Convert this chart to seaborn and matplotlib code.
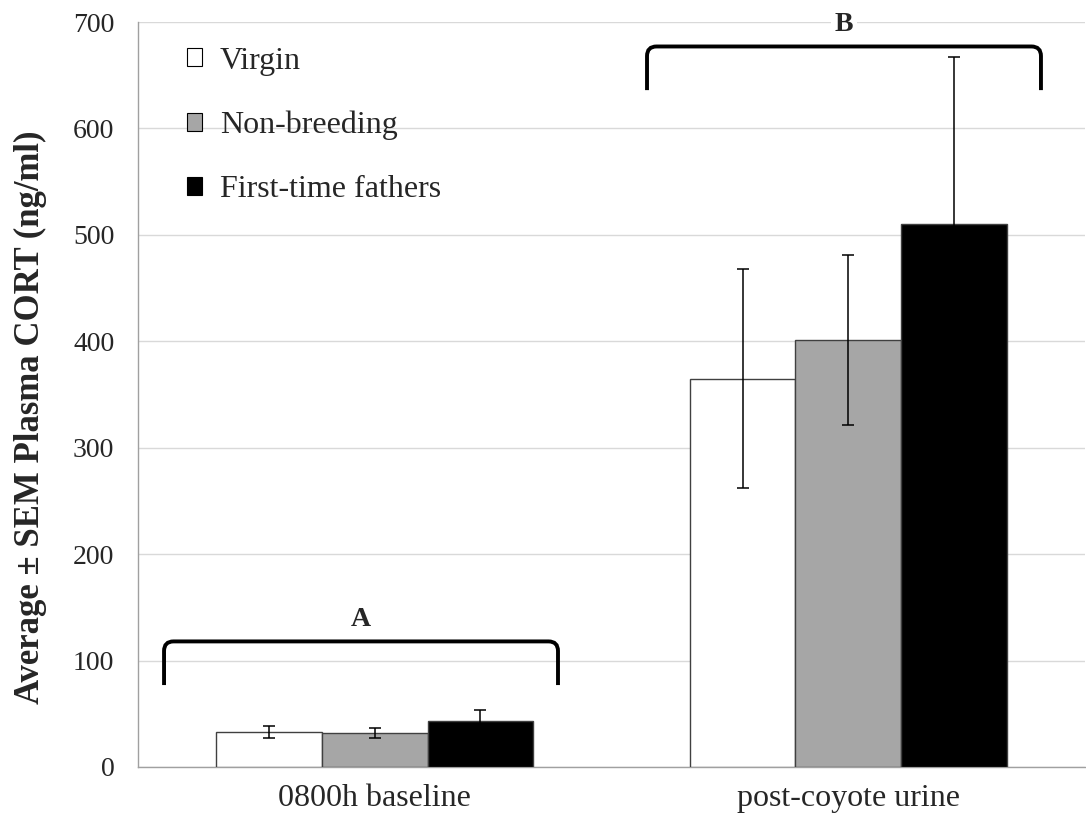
import matplotlib
matplotlib.use("Agg")
import matplotlib.pyplot as plt
from matplotlib.path import Path
from matplotlib.patches import PathPatch, Patch
import seaborn as sns
import pandas as pd

# Plasma corticosterone by condition and group
conditions = ["0800h baseline", "post-coyote urine"]
groups = ["Virgin", "Non-breeding", "First-time fathers"]
means_baseline = [33, 32, 43.5]
sems_baseline = [5.5, 4.4, 10]
means_coyote = [365, 401, 510]
sems_coyote = [103, 80, 157]
group_colors = ["#ffffff", "#a6a6a6", "#000000"]

# Significance brackets: (x start, x end), (leg bottom, top), label
bracket_x = [(-0.445, 0.387), (0.575, 1.407)]
bracket_y = [(77, 118), (636, 677)]
bracket_labels = ["A", "B"]

rows = []
for cond, means, sems in [(conditions[0], means_baseline, sems_baseline),
                          (conditions[1], means_coyote, sems_coyote)]:
    for g, m, s in zip(groups, means, sems):
        rows.append({"condition": cond, "group": g, "mean": m, "sem": s})
df = pd.DataFrame(rows)

sns.set_theme(style="white")
plt.rcParams["font.family"] = ["Liberation Serif", "DejaVu Serif"]

fig = plt.figure(figsize=(10.86, 8.25), dpi=100)
ax = fig.add_axes([138 / 1086, 1 - 767 / 825, (1085 - 138) / 1086, (767 - 22) / 825])

sns.barplot(data=df, x="condition", y="mean", hue="group", order=conditions,
            hue_order=groups, palette=group_colors, width=0.67, errorbar=None,
            edgecolor="#404040", linewidth=1.0, saturation=1, ax=ax, legend=False,
            zorder=3)

# Error bars at each bar's centre (patches come hue by hue)
ordered = [(g, c) for g in groups for c in conditions]
lookup = df.set_index(["group", "condition"])
for bar, key in zip(ax.patches, ordered):
    cx = bar.get_x() + bar.get_width() / 2
    ax.errorbar(cx, lookup.loc[key, "mean"], yerr=lookup.loc[key, "sem"],
                color="black", lw=1.1, capsize=4.5, capthick=1.1, zorder=4)

ax.set_xlim(-0.5, 1.5)
ax.set_ylim(0, 700)
ax.set_yticks(range(0, 701, 100))
ax.yaxis.grid(True, color="#d9d9d9", lw=1.0, zorder=0)
ax.set_axisbelow(True)
for side in ["top", "right"]:
    ax.spines[side].set_visible(False)
for side in ["left", "bottom"]:
    ax.spines[side].set_color("#a0a0a0")
    ax.spines[side].set_linewidth(1.0)

ax.set_xticks([0.5], minor=True)
ax.tick_params(axis="x", which="major", length=0, labelsize=23, pad=12)
ax.tick_params(axis="x", which="minor", length=7, color="#a0a0a0", direction="out")
ax.tick_params(axis="y", length=7, color="#a0a0a0", direction="out",
               labelsize=20, pad=10)
ax.set_xlabel("")
ax.set_ylabel("Average \u00b1 SEM Plasma CORT (ng/ml)", fontsize=25,
              fontweight="bold")
ax.yaxis.set_label_coords(-0.096, 0.47)

# Brackets with rounded corners
rx, ry = 0.02, 9
for (x0, x1), (yb, yt), lab in zip(bracket_x, bracket_y, bracket_labels):
    verts = [(x0, yb), (x0, yt - ry), (x0, yt), (x0 + rx, yt),
             (x1 - rx, yt), (x1, yt), (x1, yt - ry), (x1, yb)]
    codes = [Path.MOVETO, Path.LINETO, Path.CURVE3, Path.CURVE3,
             Path.LINETO, Path.CURVE3, Path.CURVE3, Path.LINETO]
    ax.add_patch(PathPatch(Path(verts, codes), fill=False, lw=2.8,
                           edgecolor="black", zorder=5, clip_on=False))
    ax.text((x0 + x1) / 2, yt + 21, lab, ha="center", va="center",
            fontsize=20, fontweight="bold", zorder=6,
            bbox=dict(facecolor="white", edgecolor="none", pad=3))

handles = [Patch(facecolor=c, edgecolor="black", linewidth=0.8) for c in group_colors]
ax.legend(handles, groups, loc="upper left", bbox_to_anchor=(0.028, 0.997),
          frameon=False, fontsize=23, handlelength=0.47, handleheight=0.47,
          handletextpad=0.56, labelspacing=1.1, borderaxespad=0.3)

fig.savefig("out.png", dpi=100)
